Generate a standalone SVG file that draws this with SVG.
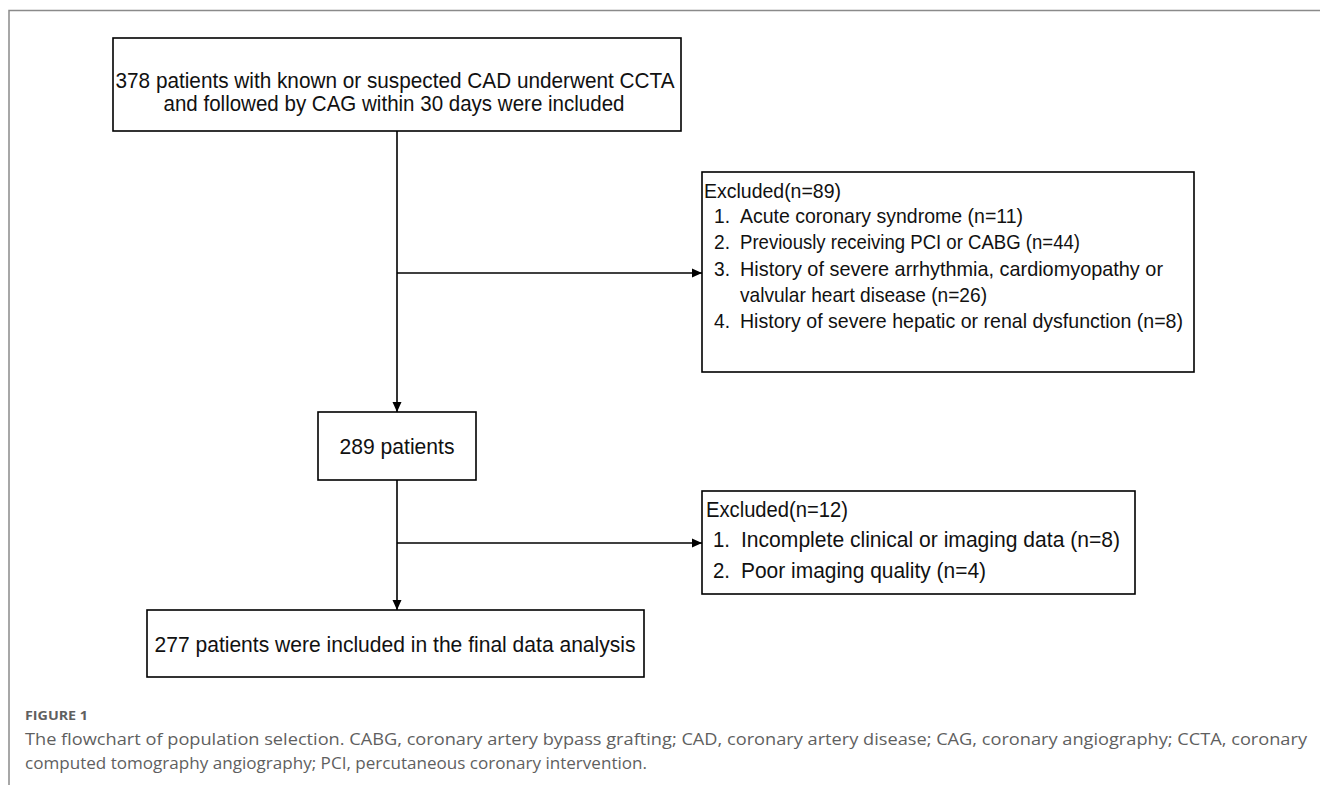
<svg xmlns="http://www.w3.org/2000/svg" width="1320" height="785" viewBox="0 0 1320 785">
<defs>
<marker id="arr" markerWidth="12" markerHeight="12" refX="10" refY="5" orient="auto" markerUnits="userSpaceOnUse">
<path d="M0,0.5 L10,5 L0,9.5 Z" fill="#000"/>
</marker>
<style>
.box{fill:#fff;stroke:#000;stroke-width:1.6}
.t{font-family:"Liberation Sans",Arial,sans-serif;fill:#111}
.c{font-family:"Open Sans","Liberation Sans",sans-serif;fill:#5f5f5f}
.frame{stroke:#8a8a8a;stroke-width:1.5;fill:none}
.ln{stroke:#000;stroke-width:1.6;fill:none}
</style>
</defs>
<rect width="1320" height="785" fill="#fff"/>
<path class="frame" d="M9,785 L9,10.5 L1320,10.5"/>

<g id="connectors">
<line class="ln" x1="397" y1="131" x2="397" y2="412" marker-end="url(#arr)"/>
<line class="ln" x1="397" y1="273" x2="702" y2="273" marker-end="url(#arr)"/>
<line class="ln" x1="397" y1="480" x2="397" y2="610" marker-end="url(#arr)"/>
<line class="ln" x1="397" y1="543" x2="702" y2="543" marker-end="url(#arr)"/>
</g>

<g id="n-start">
<rect class="box" x="113" y="38" width="568" height="93"/>
<text class="t" font-size="22" x="395" y="88" text-anchor="middle" textLength="559" lengthAdjust="spacingAndGlyphs">378 patients with known or suspected CAD underwent CCTA</text>
<text class="t" font-size="22" x="394" y="111" text-anchor="middle" textLength="461" lengthAdjust="spacingAndGlyphs">and followed by CAG within 30 days were included</text>
</g>

<g id="n-excl1">
<rect class="box" x="702" y="172" width="492" height="200"/>
<text class="t" font-size="21" x="704" y="198" textLength="137" lengthAdjust="spacingAndGlyphs">Excluded(n=89)</text>
<text class="t" font-size="21" x="714" y="223" textLength="16" lengthAdjust="spacingAndGlyphs">1.</text>
<text class="t" font-size="21" x="740" y="223" textLength="283" lengthAdjust="spacingAndGlyphs">Acute coronary syndrome (n=11)</text>
<text class="t" font-size="21" x="714" y="249" textLength="16" lengthAdjust="spacingAndGlyphs">2.</text>
<text class="t" font-size="21" x="740" y="249" textLength="340" lengthAdjust="spacingAndGlyphs">Previously receiving PCI or CABG (n=44)</text>
<text class="t" font-size="21" x="714" y="276" textLength="16" lengthAdjust="spacingAndGlyphs">3.</text>
<text class="t" font-size="21" x="740" y="276" textLength="423" lengthAdjust="spacingAndGlyphs">History of severe arrhythmia, cardiomyopathy or</text>
<text class="t" font-size="21" x="740" y="302" textLength="247" lengthAdjust="spacingAndGlyphs">valvular heart disease (n=26)</text>
<text class="t" font-size="21" x="714" y="328" textLength="16" lengthAdjust="spacingAndGlyphs">4.</text>
<text class="t" font-size="21" x="740" y="328" textLength="443" lengthAdjust="spacingAndGlyphs">History of severe hepatic or renal dysfunction (n=8)</text>
</g>

<g id="n-289">
<rect class="box" x="318" y="412" width="158" height="68"/>
<text class="t" font-size="22" x="397" y="454" text-anchor="middle" textLength="115" lengthAdjust="spacingAndGlyphs">289 patients</text>
</g>

<g id="n-excl2">
<rect class="box" x="702" y="491" width="433" height="103"/>
<text class="t" font-size="22" x="706" y="517" textLength="142" lengthAdjust="spacingAndGlyphs">Excluded(n=12)</text>
<text class="t" font-size="22" x="713" y="547" textLength="17" lengthAdjust="spacingAndGlyphs">1.</text>
<text class="t" font-size="22" x="741" y="547" textLength="379" lengthAdjust="spacingAndGlyphs">Incomplete clinical or imaging data (n=8)</text>
<text class="t" font-size="22" x="713" y="578" textLength="17" lengthAdjust="spacingAndGlyphs">2.</text>
<text class="t" font-size="22" x="741" y="578" textLength="245" lengthAdjust="spacingAndGlyphs">Poor imaging quality (n=4)</text>
</g>

<g id="n-final">
<rect class="box" x="147" y="610" width="497" height="67"/>
<text class="t" font-size="22" x="395" y="652" text-anchor="middle" textLength="481" lengthAdjust="spacingAndGlyphs">277 patients were included in the final data analysis</text>
</g>

<g id="caption">
<text class="c" font-size="13" font-weight="bold" x="25" y="720" fill="#666" textLength="63" lengthAdjust="spacingAndGlyphs">FIGURE 1</text>
<text class="c" font-size="17" x="25" y="745" textLength="1282" lengthAdjust="spacingAndGlyphs">The flowchart of population selection. CABG, coronary artery bypass grafting; CAD, coronary artery disease; CAG, coronary angiography; CCTA, coronary</text>
<text class="c" font-size="17" x="25" y="769" textLength="622" lengthAdjust="spacingAndGlyphs">computed tomography angiography; PCI, percutaneous coronary intervention.</text>
</g>
</svg>
